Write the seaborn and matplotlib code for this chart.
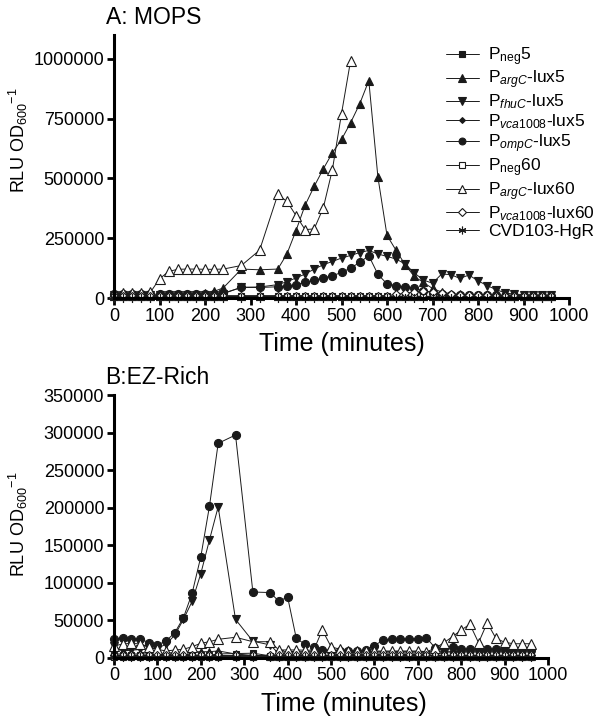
import numpy as np
import matplotlib
matplotlib.use('Agg')
import matplotlib.pyplot as plt
import matplotlib.ticker as mticker
import seaborn as sns

nan = np.nan

# sampling times (minutes), shared by both panels
times = [0, 20, 40, 60, 80, 100, 120, 140, 160, 180, 200, 220, 240,
         280, 320, 360, 380, 400, 420, 440, 460, 480, 500, 520, 540, 560,
         580, 600, 620, 640, 660, 680, 700, 720, 740, 760, 780, 800, 820,
         840, 860, 880, 900, 920, 940, 960]

labels = [r'P$_{\mathrm{neg}}$5',
          r'P$_{argC}$-lux5',
          r'P$_{fhuC}$-lux5',
          r'P$_{\mathit{vca1008}}$-lux5',
          r'P$_{ompC}$-lux5',
          r'P$_{\mathrm{neg}}$60',
          r'P$_{argC}$-lux60',
          r'P$_{\mathit{vca1008}}$-lux60',
          'CVD103-HgR']

# ---- panel A: MOPS ----
mops_neg5 = [5000] * 13 + [7000] * 33
mops_argc5 = [15000, 14000, 13000, 12000, 12000, 13000, 13000, 14000, 15000,
              17000, 21000, 28000, 42000, 121000, 118000, 121000, 184000,
              282000, 388000, 467000, 540000, 607000, 663000, 733000, 812000,
              909000, 506000, 262000, 199000, 139000, 90000, 65000, 40000,
              25000, 18000, 15000, 13000, 12000, 11000, 11000, 10000, 10000,
              10000, 10000, 10000, 10000]
mops_fhuc5 = [12000] * 12 + [18000, 45000, 46000, 56000, 68000, 84000,
              100000, 121000, 139000, 153000, 167000, 178000, 190000, 199000,
              184000, 174000, 163000, 142000, 105000, 75000, 62000, 100000,
              98000, 82000, 96000, 72000, 52000, 35000, 21000, 16000, 14000,
              13000, 12000, 12000]
mops_vca5 = [10000] * 46
mops_ompc5 = [18000, 17000, 17000, 17000, 16000, 16000, 15000, 15000, 15000,
              15000, 15000, 16000, 20000, 44000, 44000, 47000, 49000, 56000,
              65000, 74000, 84000, 93000, 107000, 125000, 149000, 177000,
              99000, 59000, 52000, 46000, 41000, 30000, 21000, 15000, 12000,
              12000, 12000, 11000, 11000, 11000, 10000, 10000, 10000, 10000,
              10000, 10000]
mops_neg60 = [4000] * 46
mops_argc60 = [22000, 21000, 21000, 22000, 24000, 80000, 111000, 120000,
               121000, 121000, 120000, 120000, 121000, 136000, 200000, 433000,
               404000, 345000, 286000, 289000, 377000, 537000, 771000, 993000] + [nan] * 22
mops_vca60 = [10000] * 28 + [15000, 20000, 25000, 30000, 25000, 20000, 16000,
              12000, 12000, 11000, 11000, 10000, 10000, 9000, 9000, 9000, 9000, 9000]
mops_cvd = [2000] * 46

# ---- panel B: EZ-Rich ----
ez_neg5 = [3000] * 12 + [5000, 5500, 6000] + [2500] * 31
ez_argc5 = [5000] * 6 + [6000, 7000, 7000, 8000, 8000, 8000, 9000, 5000, 3000] + [2000] * 31
ez_fhuc5 = [15000, 9000, 10000, 11000, 12000, 12500, 18000, 30000, 51000,
            75000, 112000, 157000, 201000, 51000, 22000, 17000, 5000] + [3000] * 29
ez_vca5 = [2000] * 46
ez_ompc5 = [24500, 26600, 24500, 25300, 20000, 17000, 22200, 33300, 53300,
            85800, 134500, 202000, 285600, 296700, 87500, 86800, 75000, 81000,
            25800, 17800, 13800, 10500, 9500, 8500, 8500, 9000, 10300, 16000,
            23500, 24500, 24500, 25000, 25500, 26600, 13000, 13500, 13800,
            11500, 11000, 11000, 11000, 11000, 11000, 11000, 11000, 11000]
ez_neg60 = [1500] * 46
ez_argc60 = [15600, 18300, 19200, 18300, 14700, 11200, 8900, 10300, 11200,
             14700, 19200, 21300, 24500, 27200, 21300, 21300, 10300, 10300,
             10300, 10000, 10000, 36900, 14700, 11200, 8900, 8900, 8900, 8900,
             8900, 8900, 8900, 8900, 8900, 8000, 12500, 20000, 28000, 36900,
             44500, 20000, 46600, 25800, 20600, 18600, 18600, 18600]
ez_vca60 = [3000] * 46
ez_cvd = [1000] * 46

mops = [mops_neg5, mops_argc5, mops_fhuc5, mops_vca5, mops_ompc5,
        mops_neg60, mops_argc60, mops_vca60, mops_cvd]
ez = [ez_neg5, ez_argc5, ez_fhuc5, ez_vca5, ez_ompc5,
      ez_neg60, ez_argc60, ez_vca60, ez_cvd]

# marker, face colour, size
styles = [('s', 'k', 5), ('^', 'k', 6), ('v', 'k', 6), ('D', 'k', 3.5),
          ('o', 'k', 5.8), ('s', 'w', 5), ('^', 'w', 6.5), ('D', 'w', 4.5),
          ((6, 2, 0), 'k', 6.5)]

sns.set_theme(style='ticks')
plt.rcParams['font.family'] = ['Liberation Sans', 'DejaVu Sans']
plt.rcParams['mathtext.fontset'] = 'custom'
plt.rcParams['mathtext.rm'] = 'Liberation Sans'
plt.rcParams['mathtext.it'] = 'Liberation Sans:italic'
for key in ['axes.edgecolor', 'xtick.color', 'ytick.color', 'text.color',
            'axes.labelcolor']:
    plt.rcParams[key] = 'black'


def draw_panel(ax, series):
    for vals, name, (mk, fc, ms) in zip(series, labels, styles):
        sns.lineplot(x=times, y=vals, ax=ax, color='k', linewidth=0.7,
                     marker=mk, markersize=ms, markerfacecolor=fc,
                     markeredgecolor='k', markeredgewidth=0.8, label=name,
                     clip_on=False, estimator=None, sort=False, legend=False)
    sns.despine(ax=ax)
    for s in ['left', 'bottom']:
        ax.spines[s].set_linewidth(2.2)
    ax.set_xlim(0, 1000)
    ax.set_xticks(range(0, 1001, 100))
    ax.yaxis.set_major_formatter(mticker.FuncFormatter(lambda v, p: f'{v:.0f}'))
    ax.tick_params(axis='both', width=2, length=5, labelsize=13, pad=2,
                   labelcolor='black')
    ax.set_xlabel('Time (minutes)', fontsize=18)
    ax.set_ylabel(r'RLU OD$_{600}$$^{-1}$', fontsize=13)


fig = plt.figure(figsize=(6.01, 7.22), dpi=100)
ax_a = fig.add_axes([114 / 601, 1 - 298 / 722, 455 / 601, 263 / 722])
ax_b = fig.add_axes([114 / 601, 1 - 657.7 / 722, 434 / 601, 262.7 / 722])

draw_panel(ax_a, mops)
ax_a.set_ylim(0, 1100000)
ax_a.set_yticks([0, 250000, 500000, 750000, 1000000])
ax_a.xaxis.set_label_coords(0.5, -0.13)
ax_a.yaxis.set_label_coords(-0.185, 0.6)

draw_panel(ax_b, ez)
ax_b.set_ylim(0, 350000)
ax_b.set_yticks(range(0, 350001, 50000))
ax_b.xaxis.set_label_coords(0.53, -0.13)
ax_b.yaxis.set_label_coords(-0.194, 0.51)

ax_a.legend(ax_a.get_lines()[:9], labels, loc='upper left',
            bbox_to_anchor=(446 / 601, 1 - 45 / 722),
            bbox_transform=fig.transFigure, frameon=False, fontsize=12.5,
            handlelength=1.9, handletextpad=0.5, labelspacing=0.07,
            borderaxespad=0, borderpad=0, markerscale=0.85)

fig.text(106 / 601, 1 - 18 / 722, 'A: MOPS', fontsize=16.5, va='center', ha='left')
fig.text(105 / 601, 1 - 377 / 722, 'B:EZ-Rich', fontsize=16.5, va='center', ha='left')

fig.savefig('out.png', dpi=100)
